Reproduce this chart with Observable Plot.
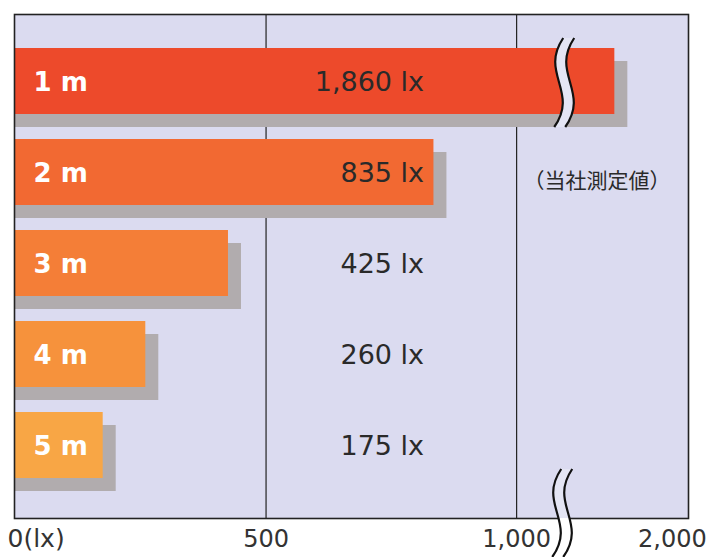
<!DOCTYPE html>
<html><head><meta charset="utf-8">
<script src="https://cdn.jsdelivr.net/npm/d3@7"></script>
<script src="https://cdn.jsdelivr.net/npm/@observablehq/plot@0.6"></script>
<style>body{margin:0;background:#fff}</style>
</head><body><div id="chart"></div>
<script>
const distances = ["1 m", "2 m", "3 m", "4 m", "5 m"];
const illuminance = [1860, 835, 425, 260, 175];
const valueLabels = ["1,860 lx", "835 lx", "425 lx", "260 lx", "175 lx"];
const barColors = ["#ed4a2b", "#f26932", "#f47e37", "#f6923c", "#f8a645"];
const gridValues = [500, 1000];
const tickValues = [0, 500, 1000, 2000];
const tickLabels = ["0(lx)", "500", "1,000", "2,000"];
const note = "（当社測定値）";

// broken axis: values above 1,000 are compressed
const brokenAxis = d3.scaleLinear().domain([0, 1000, 1860, 2000]).range([0, 1000, 1196, 1311]);

const bg = "#dbdbf0";
const data = distances.map((d, i) => ({d, v: illuminance[i], label: valueLabels[i], color: barColors[i]}));
const ticks = tickValues.map((v, i) => ({v, label: tickLabels[i]}));

const plot = Plot.plot({
  width: 711, height: 557,
  marginTop: 14, marginLeft: 15, marginRight: 23, marginBottom: 39,
  style: {background: "white", fontFamily: "DejaVu Sans", overflow: "visible"},
  x: {domain: [0, 1343], axis: null},
  y: {domain: distances, range: [34.2, 491.7], paddingInner: 0.28, paddingOuter: 0.14, axis: null},
  color: {type: "identity"},
  marks: [
    Plot.frame({fill: bg, stroke: "none", insetLeft: -1}),
    Plot.ruleX(gridValues, {x: d => brokenAxis(d), stroke: "#222", strokeWidth: 1.2}),
    Plot.rectX(data, {x1: 0, x2: d => brokenAxis(d.v), y: "d", fill: "#b1acae", dy: 13, insetRight: -13}),
    Plot.rectX(data, {x1: 0, x2: d => brokenAxis(d.v), y: "d", fill: "color"}),
    Plot.text(data, {x: 0, y: "d", text: "d", textAnchor: "start", dx: 18, dy: 1, fill: "white",
      fontSize: 26, fontWeight: "bold", style: {letterSpacing: "3px"}}),
    Plot.text(data, {x: 500, y: "d", text: "label", textAnchor: "end", dx: 158, dy: 1, fill: "#2a2a2a",
      fontSize: 27, style: {letterSpacing: "3px"}}),
    Plot.text([note], {x: brokenAxis(2000), y: [distances[1]], text: d => d, textAnchor: "end", dx: -2, dy: 9,
      fill: "#2a2a2a", fontSize: 21, fontFamily: "Noto Sans CJK JP"}),
    Plot.frame({stroke: "#222", strokeWidth: 1.6, insetLeft: -1}),
    Plot.text(ticks.slice(0, 1), {x: d => brokenAxis(d.v), text: "label", frameAnchor: "bottom", textAnchor: "start",
      dx: -8, dy: 28, fill: "#333", fontSize: 25}),
    Plot.text(ticks.slice(1), {x: d => brokenAxis(d.v), text: "label", frameAnchor: "bottom", dy: 28,
      fill: "#333", fontSize: 24, style: {letterSpacing: "1px"}})
  ]
});
document.getElementById("chart").appendChild(plot);

// axis-break marks drawn with the plot's own scales
const sx = plot.scale("x"), sy = plot.scale("y");
const svg = d3.select(plot);
const bw = sy.bandwidth;
const bx = (sx.apply(brokenAxis(1000)) + sx.apply(brokenAxis(1860))) / 2 - 8;
const frameBottom = 557 - 39;
const defs = svg.append("defs");
const grad = defs.append("linearGradient").attr("id", "brkfill")
  .attr("gradientUnits", "userSpaceOnUse").attr("x1", 0).attr("x2", 0).attr("y1", 0).attr("y2", 557);
grad.append("stop").attr("offset", frameBottom / 557).attr("stop-color", "#e4e5f4");
grad.append("stop").attr("offset", frameBottom / 557).attr("stop-color", "#ffffff");

function brk(cx, y0, y1) {
  const h = y1 - y0;
  const pts = o => ({
    s: [cx + o + 6, y0], c1: [cx + o - 18, y0 + 0.4 * h],
    c2: [cx + o + 22, y0 + 0.6 * h], e: [cx + o - 3, y1]
  });
  const a = pts(0), b = pts(11);
  const P = p => p.join(",");
  const g = svg.append("g");
  g.append("path").attr("fill", "url(#brkfill)")
    .attr("d", `M${P(a.s)}C${P(a.c1)} ${P(a.c2)} ${P(a.e)}L${P(b.e)}C${P(b.c2)} ${P(b.c1)} ${P(b.s)}Z`);
  for (const c of [a, b]) {
    g.append("path").attr("fill", "none").attr("stroke", "#111").attr("stroke-width", 2.2)
      .attr("d", `M${P(c.s)}C${P(c.c1)} ${P(c.c2)} ${P(c.e)}`);
  }
}
brk(bx, sy.apply(distances[0]) - 10, sy.apply(distances[0]) + bw + 13);
brk(bx - 2, sy.apply(distances[4]) + bw / 2 + 24, 557);
</script>
</body></html>
